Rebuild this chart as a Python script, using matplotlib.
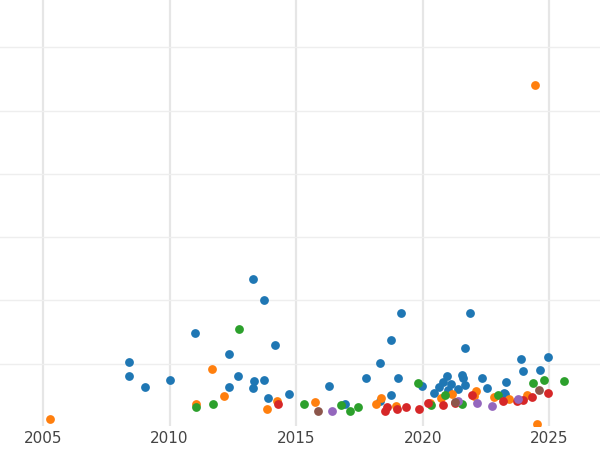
import matplotlib
matplotlib.use("Agg")
import matplotlib.pyplot as plt

# year, value per colour group
blue_x = [2008.39, 2008.39, 2009.02, 2010.01, 2011.00, 2012.34, 2012.34, 2012.69, 2013.28, 2013.28,
          2013.32, 2013.72, 2013.72, 2014.15, 2014.70, 2016.28, 2017.74, 2018.30, 2018.73, 2019.04,
          2019.12, 2018.73, 2019.95, 2020.46, 2020.66, 2020.78, 2020.94, 2020.98, 2021.13, 2021.41,
          2021.57, 2021.53, 2021.65, 2021.88, 2021.65, 2022.32, 2022.55, 2023.19, 2023.30, 2023.86,
          2023.94, 2024.64, 2024.96, 2023.26, 2018.30, 2013.88, 2016.91]
blue_y = [1.03, 0.81, 0.63, 0.74, 1.49, 1.15, 0.63, 0.81, 2.34, 0.62,
          0.73, 2.01, 0.74, 1.30, 0.52, 0.65, 0.77, 1.01, 1.37, 0.77,
          1.80, 0.51, 0.65, 0.54, 0.63, 0.71, 0.81, 0.58, 0.68, 0.60,
          0.77, 0.82, 0.66, 1.80, 1.25, 0.77, 0.62, 0.54, 0.71, 1.07,
          0.88, 0.90, 1.11, 0.52, 0.41, 0.46, 0.36]
orange_x = [2005.28, 2011.04, 2011.67, 2012.14, 2013.84, 2014.23, 2015.73, 2018.33, 2018.14, 2018.93,
            2020.27, 2020.70, 2021.17, 2022.12, 2022.04, 2022.83, 2024.13, 2024.45, 2024.53, 2023.42]
orange_y = [0.13, 0.36, 0.92, 0.49, 0.28, 0.41, 0.39, 0.46, 0.36, 0.33,
            0.38, 0.46, 0.52, 0.57, 0.49, 0.47, 0.51, 5.40, 0.05, 0.44]
green_x = [2011.04, 2011.71, 2012.73, 2015.30, 2016.76, 2017.11, 2017.43, 2019.83, 2020.31, 2020.86,
           2021.53, 2022.99, 2024.37, 2024.80, 2025.59]
green_y = [0.32, 0.36, 1.55, 0.36, 0.35, 0.25, 0.32, 0.70, 0.35, 0.51,
           0.36, 0.51, 0.70, 0.74, 0.73]
red_x = [2014.27, 2018.57, 2018.49, 2019.00, 2019.32, 2019.87, 2020.19, 2020.78, 2021.29, 2021.96,
         2023.15, 2023.74, 2023.94, 2024.33, 2024.96]
red_y = [0.36, 0.32, 0.25, 0.28, 0.32, 0.28, 0.38, 0.35, 0.38, 0.51,
         0.41, 0.41, 0.43, 0.47, 0.54]
purple_x = [2016.40, 2021.41, 2022.16, 2022.75, 2023.78]
purple_y = [0.25, 0.41, 0.38, 0.33, 0.44]
brown_x = [2015.85, 2021.29, 2024.61]
brown_y = [0.25, 0.40, 0.58]

groups = [(blue_x, blue_y, "#1f77b4"), (orange_x, orange_y, "#ff7f0e"),
          (green_x, green_y, "#2ca02c"), (red_x, red_y, "#d62728"),
          (purple_x, purple_y, "#9467bd"), (brown_x, brown_y, "#8c564b")]

fig = plt.figure(figsize=(6, 4.5), dpi=100)
ax = fig.add_axes([0, 24 / 450, 1, 426 / 450])
for xs, ys, c in groups:
    ax.scatter(xs, ys, s=40, color=c, linewidths=0, zorder=3)

ax.set_xlim(2003.3, 2027.0)
ax.set_ylim(0.016, 6.75)
ax.set_xticks([2005, 2010, 2015, 2020, 2025])
ax.set_yticks([1, 2, 3, 4, 5, 6])
ax.set_yticklabels([])
ax.tick_params(axis="both", length=0, labelsize=11, labelcolor="#444444")
ax.grid(axis="x", color="#e6e6e6", lw=1.6)
ax.grid(axis="y", color="#eeeeee", lw=1.0)
ax.set_axisbelow(True)
for s in ax.spines.values():
    s.set_visible(False)

fig.savefig("out.png", dpi=100)
